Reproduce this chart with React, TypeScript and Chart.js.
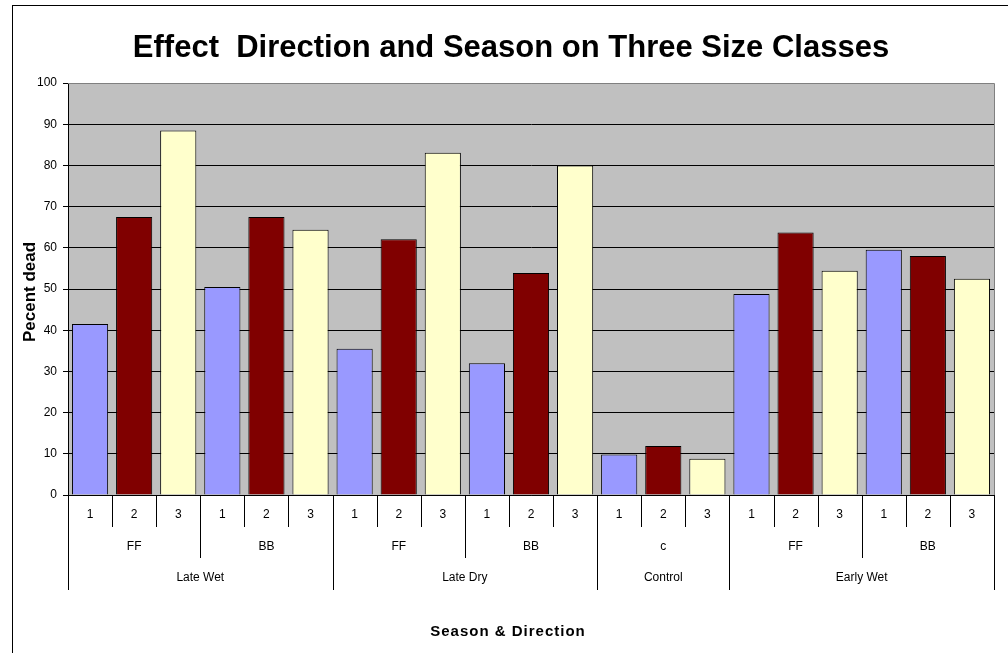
import React, { useEffect, useRef } from "react";
import { Chart, registerables } from "chart.js";

Chart.register(...registerables);

const chartTitle = "Effect  Direction and Season on Three Size Classes";
const yAxisTitle = "Pecent dead";
const xAxisTitle = "Season & Direction";
const sizeLabels = ["1", "2", "3"];
const directions = ["FF", "BB", "FF", "BB", "c", "FF", "BB"];
const seasons = ["Late Wet", "Late Dry", "Control", "Early Wet"];
const seasonSpans = [2, 2, 1, 2];
const percentDead = [
  41.5, 67.5, 88.5, 50.5, 67.5, 64.4,
  35.5, 62.1, 83.1, 32, 53.9, 80,
  9.8, 11.9, 8.8,
  48.8, 63.7, 54.4, 59.5, 58, 52.5,
];
const barColors = ["#9999FF", "#800000", "#FFFFCC"];
const yTicks = [0, 10, 20, 30, 40, 50, 60, 70, 80, 90, 100];

const FONT = "'Liberation Sans', Arial, sans-serif";

const categoryLabels: string[] = [];
directions.forEach(() => sizeLabels.forEach((s) => categoryLabels.push(s)));

const decorPlugin = {
  id: "decor",
  beforeDraw(chart: any) {
    const { ctx, chartArea } = chart;
    ctx.save();
    ctx.fillStyle = "#ffffff";
    ctx.fillRect(0, 0, chart.width, chart.height);
    ctx.strokeStyle = "#000";
    ctx.lineWidth = 1;
    ctx.strokeRect(12.5, 5.5, chart.width + 20, chart.height + 20);
    ctx.fillStyle = "#C0C0C0";
    ctx.fillRect(chartArea.left, chartArea.top, chartArea.right - chartArea.left, chartArea.bottom - chartArea.top);
    ctx.restore();
  },
  afterDraw(chart: any) {
    const { ctx, chartArea } = chart;
    const xs = chart.scales.x;
    const n = categoryLabels.length;
    const w = (chartArea.right - chartArea.left) / n;
    const edge = (i: number) => Math.round(xs.getPixelForValue(i) - w / 2) + 0.5;
    const bottom = chartArea.bottom;
    ctx.save();
    ctx.strokeStyle = "#808080";
    ctx.lineWidth = 1;
    ctx.beginPath();
    ctx.moveTo(chartArea.left, chartArea.top + 0.5);
    ctx.lineTo(chartArea.right + 0.5, chartArea.top + 0.5);
    ctx.lineTo(chartArea.right + 0.5, chartArea.bottom);
    ctx.stroke();

    const seasonEdges = [0];
    let acc = 0;
    seasonSpans.forEach((s) => { acc += s * 3; seasonEdges.push(acc); });

    ctx.strokeStyle = "#000";
    ctx.beginPath();
    for (let i = 0; i <= n; i++) {
      let len = 32;
      if (i % 3 === 0) len = 63;
      if (seasonEdges.includes(i)) len = 95;
      const x = i === n ? Math.round(chartArea.right) + 0.5 : edge(i);
      ctx.moveTo(x, bottom);
      ctx.lineTo(x, bottom + len);
    }
    ctx.stroke();

    ctx.fillStyle = "#000";
    ctx.textAlign = "center";
    ctx.textBaseline = "middle";
    ctx.font = `12px ${FONT}`;
    for (let i = 0; i < n; i++) {
      ctx.fillText(categoryLabels[i], xs.getPixelForValue(i), bottom + 20);
    }
    directions.forEach((d, g) => {
      const x = (xs.getPixelForValue(g * 3) + xs.getPixelForValue(g * 3 + 2)) / 2;
      ctx.fillText(d, x, bottom + 52);
    });
    let start = 0;
    seasons.forEach((s, k) => {
      const cnt = seasonSpans[k] * 3;
      const x = (xs.getPixelForValue(start) + xs.getPixelForValue(start + cnt - 1)) / 2;
      ctx.fillText(s, x, bottom + 83);
      start += cnt;
    });

    ctx.font = `bold 15px ${FONT}`;
    (ctx as any).letterSpacing = "1px";
    ctx.fillText(xAxisTitle, 508, 632);
    (ctx as any).letterSpacing = "0px";

    ctx.textBaseline = "alphabetic";
    ctx.font = `bold 31px ${FONT}`;
    ctx.fillText(chartTitle, 511, 57);

    ctx.save();
    ctx.textBaseline = "middle";
    ctx.translate(30, 292);
    ctx.rotate(-Math.PI / 2);
    ctx.font = `bold 17px ${FONT}`;
    ctx.fillText(yAxisTitle, 0, 0);
    ctx.restore();
    ctx.restore();
  },
};

export default function App() {
  const ref = useRef<HTMLCanvasElement | null>(null);
  useEffect(() => {
    if (!ref.current) return;
    const chart = new Chart(ref.current, {
      type: "bar",
      data: {
        labels: categoryLabels,
        datasets: [
          {
            data: percentDead,
            backgroundColor: percentDead.map((_, i) => barColors[i % 3]),
            borderColor: "#000",
            borderWidth: 1,
            categoryPercentage: 1,
            barPercentage: 0.82,
          },
        ],
      },
      options: {
        animation: false,
        responsive: false,
        devicePixelRatio: 1,
        layout: { padding: { top: 83, left: 0, right: 14, bottom: 0 } },
        plugins: { legend: { display: false }, title: { display: false }, tooltip: { enabled: false } },
        scales: {
          x: {
            ticks: { display: false },
            grid: { display: false, drawTicks: false },
            border: { display: true, color: "#000", width: 1 },
            afterFit: (s: any) => { s.height = 158; },
          },
          y: {
            min: 0,
            max: 100,
            afterBuildTicks: (s: any) => { s.ticks = yTicks.map((v) => ({ value: v })); },
            ticks: { color: "#000", font: { family: FONT, size: 12 }, padding: 6 },
            grid: {
              color: (c: any) => (c.tick && c.tick.value === 100 ? "#808080" : "#000"),
              tickColor: "#000",
              tickLength: 5,
              lineWidth: 1,
            },
            border: { display: true, color: "#000", width: 1 },
            afterFit: (s: any) => { s.width = 68; },
          },
        },
      },
      plugins: [decorPlugin],
    });
    return () => chart.destroy();
  }, []);
  return (
    <div style={{ position: "absolute", left: 0, top: 0, width: 1008, height: 653 }}>
      <canvas ref={ref} width={1008} height={653} />
    </div>
  );
}
